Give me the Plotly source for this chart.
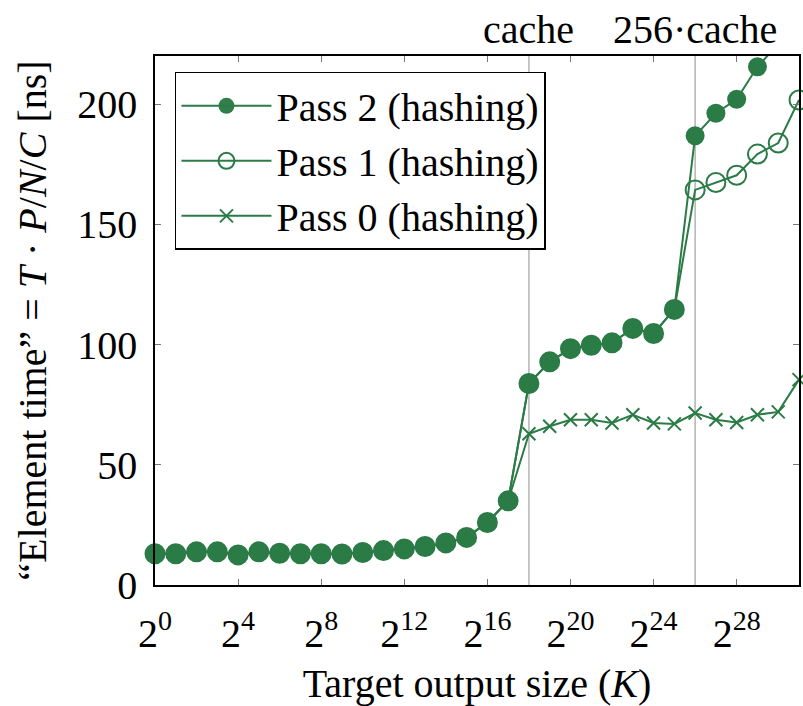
import plotly.graph_objects as go
import math

# Target output size exponents: K = 2^k
exponents = list(range(32))
K = [2 ** k for k in exponents]

# Element time (ns) per pass
pass2 = [13.0, 13.0, 13.8, 13.8, 12.5, 13.8, 13.2, 13.0, 13.0, 12.9, 13.5, 14.3,
         15.0, 16.0, 17.5, 19.8, 26.0, 35.0, 83.8, 92.8, 98.3, 99.7, 100.7, 106.7,
         104.6, 114.6, 186.8, 196.2, 202.0, 215.5, 225.0]
pass1 = [13.0, 13.0, 13.8, 13.8, 12.5, 13.8, 13.2, 13.0, 13.0, 12.9, 13.5, 14.3,
         15.0, 16.0, 17.5, 19.8, 26.0, 35.0, 83.8, 92.8, 98.3, 99.7, 100.7, 106.7,
         104.6, 114.6, 164.3, 167.4, 170.4, 179.2, 183.8, 201.7]
pass0 = [13.0, 13.0, 13.8, 13.8, 12.5, 13.8, 13.2, 13.0, 13.0, 12.9, 13.5, 14.3,
         15.0, 16.0, 17.5, 19.8, 26.0, 35.0, 62.9, 66.0, 68.7, 68.7, 67.4, 70.8,
         67.4, 67.0, 71.5, 68.7, 67.6, 70.8, 72.0, 85.4]

x_tick_exps = [0, 4, 8, 12, 16, 20, 24, 28]
y_ticks = [0, 50, 100, 150, 200]
cache_marks = [(18, "cache"), (26, "256·cache")]

Y_MAX = 220
GREEN = "#2b7b46"
FONT = "'Liberation Serif', 'Times New Roman', Times, 'DejaVu Serif', serif"
FS = 40

fig = go.Figure()

fig.add_trace(go.Scatter(
    x=K, y=pass0, name="Pass 0 (hashing)", mode="lines+markers",
    line=dict(color=GREEN, width=2),
    marker=dict(symbol="x-thin-open", size=13, color=GREEN, line=dict(width=2, color=GREEN)),
    cliponaxis=False,
))
fig.add_trace(go.Scatter(
    x=K, y=pass1, name="Pass 1 (hashing)", mode="lines+markers",
    line=dict(color=GREEN, width=2),
    marker=dict(symbol="circle-open", size=19, color=GREEN, line=dict(width=2)),
    cliponaxis=False,
))
# Pass 2: points above the y range are not drawn as markers (the line is clipped)
fig.add_trace(go.Scatter(
    x=K[:len(pass2)], y=pass2, name="Pass 2 (hashing)", mode="lines+markers",
    line=dict(color=GREEN, width=2),
    marker=dict(symbol="circle", size=19, color=GREEN,
                opacity=[1 if v <= Y_MAX else 0 for v in pass2]),
    cliponaxis=False,
))

shapes = []
annotations = []
for e, label in cache_marks:
    shapes.append(dict(type="line", xref="x", yref="paper", x0=2 ** e, x1=2 ** e,
                       y0=0, y1=1, line=dict(color="#b3b3b3", width=1.5), layer="below"))
    annotations.append(dict(x=math.log10(2 ** e), y=1.0, xref="x", yref="paper",
                            text=label, showarrow=False, yanchor="bottom", yshift=2,
                            font=dict(family=FONT, size=FS, color="black")))

fig.update_layout(
    width=803, height=706,
    margin=dict(l=155, r=2, t=56, b=121),
    paper_bgcolor="white", plot_bgcolor="white",
    font=dict(family=FONT, size=FS, color="black"),
    showlegend=True,
    legend=dict(
        x=0.031, y=0.97, xanchor="left", yanchor="top",
        bgcolor="white", bordercolor="black", borderwidth=1.5,
        font=dict(family=FONT, size=FS), traceorder="reversed",
        tracegroupgap=0, itemwidth=90,
    ),
    shapes=shapes,
    annotations=annotations,
)

fig.update_xaxes(
    type="log", range=[0, math.log10(2 ** 31)],
    tickvals=[2 ** e for e in x_tick_exps],
    ticktext=[f"2<sup>{e}</sup>" for e in x_tick_exps],
    ticks="inside", ticklen=6, tickwidth=1.2, tickcolor="#777",
    showline=True, linecolor="black", linewidth=1.5, mirror="ticks",
    showgrid=False, zeroline=False,
    tickfont=dict(family=FONT, size=FS), ticklabelstandoff=12,
    title=dict(text="Target output size (<i>K</i>)", font=dict(family=FONT, size=FS), standoff=14),
)
fig.update_yaxes(
    range=[0, Y_MAX], tickvals=y_ticks,
    ticks="inside", ticklen=6, tickwidth=1.2, tickcolor="#777",
    showline=True, linecolor="black", linewidth=1.5, mirror="ticks",
    showgrid=False, zeroline=False,
    tickfont=dict(family=FONT, size=FS), ticklabelstandoff=8,
    title=dict(text="“Element time” = <i>T</i> · <i>P</i>/<i>N</i>/<i>C</i> [ns]",
               font=dict(family=FONT, size=FS), standoff=18),
)

fig.write_html("out.html")
